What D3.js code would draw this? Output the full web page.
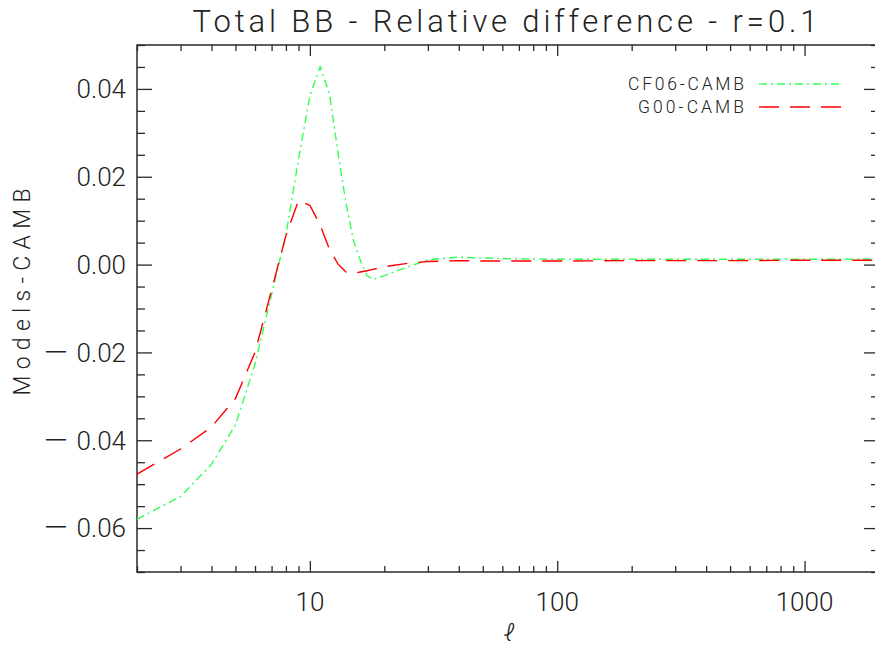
<!DOCTYPE html>
<html>
<head>
<meta charset="utf-8">
<script src="https://cdn.jsdelivr.net/npm/d3@7"></script>
<style>
  html, body { margin: 0; padding: 0; background: #fff; }
  svg { display: block; }
  text { font-family: Roboto, "DejaVu Sans", sans-serif; font-weight: 300; fill: #222; }
</style>
</head>
<body>
<svg id="chart" width="875" height="648"></svg>
<script>
// multipole values (x) and relative differences
const ell = [2, 3, 4, 5, 6, 7, 8, 9, 10, 11, 12, 13, 14, 15, 16, 17, 18, 20, 25, 30, 40, 50, 70, 100, 200, 500, 1000, 2000];
const cf06 = [-0.0580, -0.0528, -0.0455, -0.0365, -0.0227, -0.0068, 0.0068, 0.0240, 0.0385, 0.0450, 0.0390, 0.0253, 0.0140, 0.0055, 0.0009, -0.0025, -0.0034, -0.0025, -0.0005, 0.0011, 0.0017, 0.0015, 0.0013, 0.0012, 0.0012, 0.0012, 0.0012, 0.0012];
const g00 = [-0.0477, -0.0420, -0.0370, -0.0305, -0.0200, -0.0058, 0.0066, 0.0146, 0.0135, 0.0090, 0.0035, 0.0001, -0.0017, -0.0020, -0.0017, -0.0014, -0.0011, -0.0005, 0.0003, 0.0007, 0.0009, 0.0008, 0.0008, 0.0008, 0.0009, 0.0009, 0.0010, 0.0010];

const yMajor = [-0.06, -0.04, -0.02, 0.00, 0.02, 0.04];
const xMajor = [10, 100, 1000];

const series = [
  { name: "CF06-CAMB", values: cf06, color: "#33ff55", dash: "8,4,2,4", len: 116 },
  { name: "G00-CAMB", values: g00, color: "#ff0000", dash: "20,11", len: 106 }
];

const svg = d3.select("#chart");
const margin = { top: 45, right: -4, bottom: 76, left: 137 };
const W = 875, H = 648;
const x0 = margin.left, x1 = W - margin.right, y0 = margin.top, y1 = H - margin.bottom;

const x = d3.scaleLog().domain([2, 2000]).range([x0, x1]);
const y = d3.scaleLinear().domain([-0.07, 0.05]).range([y1, y0]);

// minor ticks
const yMinor = d3.range(-70, 51, 5).map(d => d / 1000).filter(d => !yMajor.some(m => Math.abs(m - d) < 1e-9));
const xMinor = [];
[1, 10, 100, 1000].forEach(dec => {
  for (let k = 2; k <= 9; k++) {
    const v = dec * k;
    if (v >= 2 && v <= 2000) xMinor.push(v);
  }
});

const axisColor = "#2a2a2a";
const g = svg.append("g");

// frame
g.append("rect")
  .attr("x", x0).attr("y", y0)
  .attr("width", x1 - x0).attr("height", y1 - y0)
  .attr("fill", "none").attr("stroke", axisColor).attr("stroke-width", 1.5);

// axes via d3 with inner ticks on all four sides
function styleAxis(sel) {
  sel.select(".domain").remove();
  sel.selectAll(".tick line").attr("stroke", axisColor).attr("stroke-width", 1.3);
  sel.selectAll(".tick text").remove();
}

g.append("g").attr("transform", `translate(0,${y1})`)
  .call(d3.axisBottom(x).tickValues(xMajor).tickSize(-11)).call(styleAxis);
g.append("g").attr("transform", `translate(0,${y1})`)
  .call(d3.axisBottom(x).tickValues(xMinor).tickSize(-6)).call(styleAxis);
g.append("g").attr("transform", `translate(0,${y0})`)
  .call(d3.axisTop(x).tickValues(xMajor).tickSize(-11)).call(styleAxis);
g.append("g").attr("transform", `translate(0,${y0})`)
  .call(d3.axisTop(x).tickValues(xMinor).tickSize(-6)).call(styleAxis);

g.append("g").attr("transform", `translate(${x0},0)`)
  .call(d3.axisLeft(y).tickValues(yMajor).tickSize(-15)).call(styleAxis);
g.append("g").attr("transform", `translate(${x0},0)`)
  .call(d3.axisLeft(y).tickValues(yMinor).tickSize(-8)).call(styleAxis);
g.append("g").attr("transform", `translate(${x1},0)`)
  .call(d3.axisRight(y).tickValues(yMajor).tickSize(-15)).call(styleAxis);
g.append("g").attr("transform", `translate(${x1},0)`)
  .call(d3.axisRight(y).tickValues(yMinor).tickSize(-8)).call(styleAxis);

// tick labels (negative ones get a wide minus like the original)
const fmtY = d3.format(".2f");
g.selectAll(".ylab").data(yMajor).enter().append("text")
  .attr("x", x0 - 11).attr("y", d => y(d))
  .attr("dy", "0.36em").attr("text-anchor", "end")
  .attr("font-size", 26)
  .each(function(d) {
    const t = d3.select(this);
    if (d < 0) {
      t.append("tspan")
        .attr("font-family", "'DejaVu Sans', sans-serif")
        .attr("font-size", 32)
        .text("\u2212");
      t.append("tspan").attr("dx", 7).text(fmtY(-d));
    } else {
      t.text(fmtY(d));
    }
  });

g.selectAll(".xlab").data(xMajor).enter().append("text")
  .attr("x", d => x(d)).attr("y", 602)
  .attr("dy", "0.36em").attr("text-anchor", "middle")
  .attr("font-size", 26)
  .text(d => d);

// curves
const line = d3.line().x(d => x(d[0])).y(d => y(d[1]));
series.forEach(s => {
  g.append("path")
    .datum(ell.map((l, i) => [l, s.values[i]]))
    .attr("d", line)
    .attr("fill", "none")
    .attr("stroke", s.color)
    .attr("stroke-width", 1.4)
    .attr("stroke-dasharray", s.dash);
});

// legend
series.forEach((s, i) => {
  const ly = 84 + i * 23;
  g.append("text")
    .attr("x", 744).attr("y", ly).attr("dy", "0.36em")
    .attr("text-anchor", "end").attr("font-size", 17.5)
    .attr("textLength", s.len).attr("lengthAdjust", "spacing")
    .text(s.name);
  g.append("line")
    .attr("x1", 759).attr("x2", 842).attr("y1", ly).attr("y2", ly)
    .attr("stroke", s.color).attr("stroke-width", 1.4)
    .attr("stroke-dasharray", s.dash);
});

// titles
svg.append("text")
  .attr("x", 505).attr("y", 21).attr("dy", "0.36em")
  .attr("text-anchor", "middle").attr("font-size", 31)
  .attr("textLength", 625).attr("lengthAdjust", "spacing")
  .text("Total BB - Relative difference - r=0.1");

svg.append("text")
  .attr("transform", "translate(22,292) rotate(-90)")
  .attr("dy", "0.36em").attr("text-anchor", "middle")
  .attr("font-size", 23)
  .attr("textLength", 207).attr("lengthAdjust", "spacing")
  .text("Models-CAMB");

svg.append("text")
  .attr("x", 509).attr("y", 632).attr("dy", "0.36em")
  .attr("text-anchor", "middle").attr("font-size", 24)
  .attr("font-style", "italic")
  .text("\u2113");
</script>
</body>
</html>
